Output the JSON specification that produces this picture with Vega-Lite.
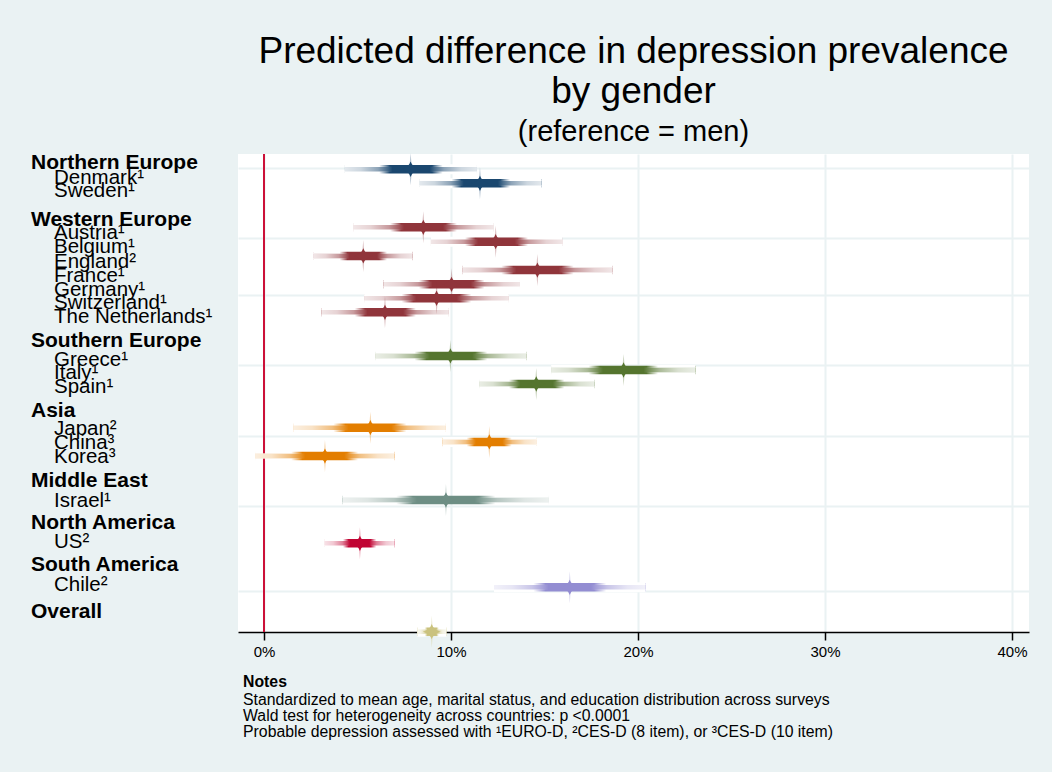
{
  "$schema": "https://vega.github.io/schema/vega-lite/v6.json",
  "width": 791,
  "height": 478,
  "autosize": {"type": "none"},
  "padding": {"left": 238, "top": 154, "right": 23, "bottom": 140},
  "background": "#eaf2f3",
  "config": {"view": {"fill": "white", "stroke": null}, "font": "Liberation Sans"},
  "title": {
    "text": ["Predicted difference in depression prevalence", "by gender"],
    "subtitle": "(reference = men)",
    "font": "Liberation Sans",
    "fontSize": 37,
    "fontWeight": "normal",
    "lineHeight": 40,
    "color": "black",
    "subtitleFont": "Liberation Sans",
    "subtitleFontSize": 29,
    "subtitleColor": "black",
    "subtitlePadding": 7,
    "anchor": "middle",
    "frame": "group",
    "offset": 4
  },
  "datasets": {
    "countries": [
      {"region": "Northern Europe", "label": "Denmark¹", "est": 7.84, "lo": 4.33, "hi": 11.39, "row": 0.11, "lrow": 1.16},
      {"region": "Northern Europe", "label": "Sweden¹", "est": 11.55, "lo": 8.34, "hi": 14.85, "row": 1.11, "lrow": 2.10},
      {"region": "Western Europe", "label": "Austria¹", "est": 8.52, "lo": 4.81, "hi": 12.25, "row": 4.23, "lrow": 5.08},
      {"region": "Western Europe", "label": "Belgium¹", "est": 12.39, "lo": 8.93, "hi": 15.94, "row": 5.25, "lrow": 6.07},
      {"region": "Western Europe", "label": "England²", "est": 5.31, "lo": 2.67, "hi": 7.95, "row": 6.26, "lrow": 7.09},
      {"region": "Western Europe", "label": "France¹", "est": 14.62, "lo": 10.6, "hi": 18.65, "row": 7.26, "lrow": 8.09},
      {"region": "Western Europe", "label": "Germany¹", "est": 10.03, "lo": 6.38, "hi": 13.69, "row": 8.27, "lrow": 9.08},
      {"region": "Western Europe", "label": "Switzerland¹", "est": 9.23, "lo": 5.35, "hi": 13.1, "row": 9.26, "lrow": 10.04},
      {"region": "Western Europe", "label": "The Netherlands¹", "est": 6.47, "lo": 3.09, "hi": 9.89, "row": 10.26, "lrow": 11.04},
      {"region": "Southern Europe", "label": "Greece¹", "est": 9.97, "lo": 5.94, "hi": 14.05, "row": 13.35, "lrow": 14.04},
      {"region": "Southern Europe", "label": "Italy¹", "est": 19.23, "lo": 15.35, "hi": 23.08, "row": 14.35, "lrow": 15.01},
      {"region": "Southern Europe", "label": "Spain¹", "est": 14.56, "lo": 11.5, "hi": 17.66, "row": 15.34, "lrow": 16.0},
      {"region": "Asia", "label": "Japan²", "est": 5.69, "lo": 1.6, "hi": 9.73, "row": 18.44, "lrow": 18.96},
      {"region": "Asia", "label": "China³", "est": 12.05, "lo": 9.53, "hi": 14.55, "row": 19.45, "lrow": 19.97},
      {"region": "Asia", "label": "Korea³", "est": 3.26, "lo": -0.48, "hi": 6.97, "row": 20.45, "lrow": 20.96},
      {"region": "Middle East", "label": "Israel¹", "est": 9.73, "lo": 4.21, "hi": 15.24, "row": 23.57, "lrow": 24.04},
      {"region": "North America", "label": "US²", "est": 5.13, "lo": 3.26, "hi": 6.97, "row": 26.64, "lrow": 26.99},
      {"region": "South America", "label": "Chile²", "est": 16.35, "lo": 12.3, "hi": 20.41, "row": 29.76, "lrow": 30.0},
      {"region": "Overall", "label": "", "est": 8.97, "lo": 8.2, "hi": 9.75, "row": 32.91, "lrow": 32.91}
    ],
    "headers": [
      {"label": "Northern Europe", "lrow": 0.11},
      {"label": "Western Europe", "lrow": 4.13},
      {"label": "Southern Europe", "lrow": 12.70},
      {"label": "Asia", "lrow": 17.66},
      {"label": "Middle East", "lrow": 22.62},
      {"label": "North America", "lrow": 25.65},
      {"label": "South America", "lrow": 28.6},
      {"label": "Overall", "lrow": 31.96}
    ]
  },
  "layer": [
    {
      "data": {"name": "countries"},
      "mark": {"type": "bar", "orient": "horizontal", "size": 8.5},
      "encoding": {
        "x": {"field": "lo", "type": "quantitative", "title": null,
          "scale": {"domain": [-1.39, 40.91], "nice": false, "zero": false, "padding": 0},
          "axis": {"values": [0, 10, 20, 30, 40], "labelExpr": "datum.value + '%'", "labelFont": "Liberation Sans", "labelFontSize": 15, "labelColor": "black", "labelPadding": 4, "tickSize": 8, "tickColor": "black", "tickWidth": 1.5, "domainColor": "black", "domainWidth": 1.5, "grid": true, "gridColor": "#eaf2f3", "gridWidth": 2}},
        "x2": {"field": "hi"},
        "y": {"field": "row", "type": "quantitative", "title": null,
          "scale": {"domain": [-0.97, 32.93], "reverse": true, "nice": false, "zero": false, "padding": 0},
          "axis": {"values": [0, 1, 2, 4, 5, 6, 7, 8, 9, 10, 11, 13, 14, 15, 16, 18, 19, 20, 21, 23, 24, 26, 27, 29, 30, 32], "labels": false, "ticks": false, "domain": false, "grid": true, "gridColor": "#eaf2f3", "gridWidth": 2}},
        "color": {"field": "region", "type": "nominal", "legend": null,
          "scale": {"domain": ["Northern Europe", "Western Europe", "Southern Europe", "Asia", "Middle East", "North America", "South America", "Overall"],
                    "range": ["#1a476f", "#90353b", "#55752f", "#e37e00", "#6e8e84", "#c10534", "#938dd2", "#cac27e"]}}
      }
    },
    {
      "data": {"name": "countries"},
      "mark": {"type": "bar", "orient": "horizontal", "size": 10,
        "fill": {"gradient": "linear", "x1": 0, "y1": 0, "x2": 1, "y2": 0,
          "stops": [
            {"offset": 0, "color": "white"},
            {"offset": 0.26, "color": "white"},
            {"offset": 0.34, "color": "rgba(255,255,255,0)"},
            {"offset": 0.66, "color": "rgba(255,255,255,0)"},
            {"offset": 0.74, "color": "white"},
            {"offset": 1, "color": "white"}
          ]}},
      "encoding": {
        "x": {"field": "lo", "type": "quantitative"},
        "x2": {"field": "hi"},
        "y": {"field": "row", "type": "quantitative"}
      }
    },
    {
      "data": {"values": [{}]},
      "mark": {"type": "rule", "color": "#cc1038", "strokeWidth": 2},
      "encoding": {"x": {"datum": 0}}
    },
    {
      "data": {"name": "countries"},
      "mark": {"type": "bar", "orient": "horizontal", "size": 4.5},
      "encoding": {
        "x": {"field": "lo", "type": "quantitative"},
        "x2": {"field": "hi"},
        "y": {"field": "row", "type": "quantitative"},
        "color": {"field": "region", "type": "nominal", "legend": null}
      }
    },
    {
      "data": {"name": "countries"},
      "mark": {"type": "bar", "orient": "horizontal", "size": 5.5,
        "fill": {"gradient": "linear", "x1": 0, "y1": 0, "x2": 1, "y2": 0,
          "stops": [
            {"offset": 0, "color": "rgba(255,255,255,0.88)"},
            {"offset": 0.12, "color": "rgba(255,255,255,0.78)"},
            {"offset": 0.25, "color": "rgba(255,255,255,0.5)"},
            {"offset": 0.32, "color": "rgba(255,255,255,0.2)"},
            {"offset": 0.36, "color": "rgba(255,255,255,0)"},
            {"offset": 0.64, "color": "rgba(255,255,255,0)"},
            {"offset": 0.68, "color": "rgba(255,255,255,0.2)"},
            {"offset": 0.75, "color": "rgba(255,255,255,0.5)"},
            {"offset": 0.88, "color": "rgba(255,255,255,0.78)"},
            {"offset": 1, "color": "rgba(255,255,255,0.88)"}
          ]}},
      "encoding": {
        "x": {"field": "lo", "type": "quantitative"},
        "x2": {"field": "hi"},
        "y": {"field": "row", "type": "quantitative"}
      }
    },
    {
      "data": {"name": "countries"},
      "mark": {"type": "point", "filled": true, "opacity": 0.3, "strokeWidth": 0, "size": 1024,
        "shape": "M0,-1 L0.07,-0.2 L0.4,0 L0.07,0.2 L0,1 L-0.07,0.2 L-0.4,0 L-0.07,-0.2 Z"},
      "encoding": {
        "x": {"field": "est", "type": "quantitative"},
        "y": {"field": "row", "type": "quantitative"},
        "color": {"field": "region", "type": "nominal", "legend": null}
      }
    },
    {
      "data": {"name": "countries"},
      "mark": {"type": "point", "filled": true, "opacity": 1, "strokeWidth": 0, "size": 324,
        "shape": "M0,-0.85 Q0.2,-0.2 1,0 Q0.2,0.2 0,0.85 Q-0.2,0.2 -1,0 Q-0.2,-0.2 0,-0.85 Z"},
      "encoding": {
        "x": {"field": "est", "type": "quantitative"},
        "y": {"field": "row", "type": "quantitative"},
        "color": {"field": "region", "type": "nominal", "legend": null}
      }
    },
    {
      "data": {"name": "headers"},
      "mark": {"type": "text", "align": "left", "baseline": "alphabetic", "font": "Liberation Sans", "fontSize": 21, "fontWeight": "bold", "color": "black"},
      "encoding": {
        "x": {"datum": -12.46},
        "y": {"field": "lrow", "type": "quantitative"},
        "text": {"field": "label"}
      }
    },
    {
      "data": {"name": "countries"},
      "mark": {"type": "text", "align": "left", "baseline": "alphabetic", "font": "Liberation Sans", "fontSize": 20.5, "color": "black"},
      "encoding": {
        "x": {"datum": -11.23},
        "y": {"field": "lrow", "type": "quantitative"},
        "text": {"field": "label"}
      }
    },
    {
      "data": {"values": [{}]},
      "mark": {"type": "text", "align": "left", "baseline": "alphabetic", "font": "Liberation Sans", "fontSize": 15.8, "fontWeight": "bold", "color": "black", "text": "Notes"},
      "encoding": {
        "x": {"datum": -1.12},
        "y": {"datum": 36.83}
      }
    },
    {
      "data": {"values": [{}]},
      "mark": {"type": "text", "align": "left", "baseline": "alphabetic", "font": "Liberation Sans", "fontSize": 15.8, "lineHeight": 16, "color": "black",
        "text": ["Standardized to mean age, marital status, and education distribution across surveys", "Wald test for heterogeneity across countries: p <0.0001", "Probable depression assessed with ¹EURO-D, ²CES-D (8 item), or ³CES-D (10 item)"]},
      "encoding": {
        "x": {"datum": -1.12},
        "y": {"datum": 38.14}
      }
    }
  ]
}
